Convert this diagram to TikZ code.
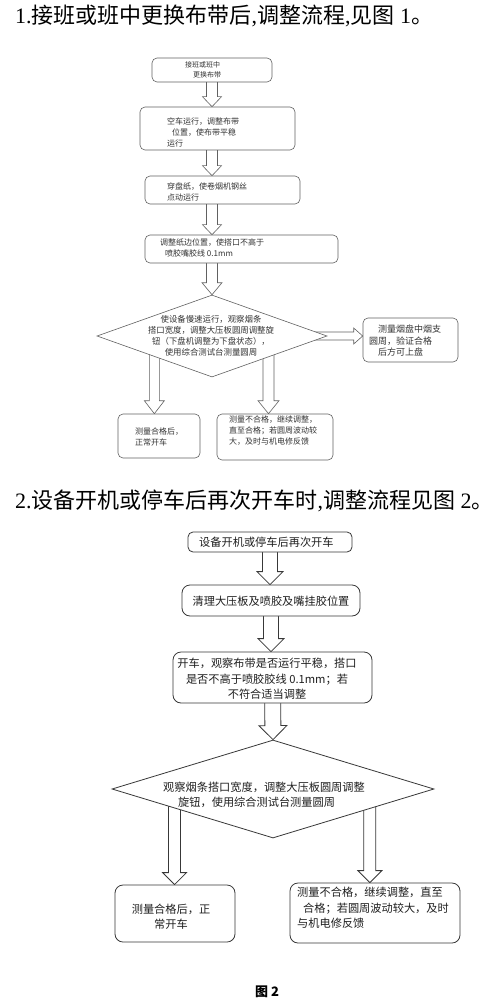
\documentclass[tikz,border=0pt]{standalone}
\usepackage{fontspec}
\setmainfont{Noto Sans CJK SC}
\newfontfamily\serf{Liberation Serif}
\usetikzlibrary{calc,shapes.geometric,backgrounds}
\tikzset{
  x=1pt, y=-1pt,
  boxa/.style={draw=black!62, line width=0.6pt, rounded corners=5pt, fill=white, inner sep=0pt},
  boxb/.style={draw=black!78, line width=0.8pt, rounded corners=8pt, fill=white, inner sep=0pt},
  diaa/.style={diamond, draw=black!62, line width=0.6pt, fill=white, inner sep=0pt},
  diab/.style={diamond, draw=black!78, line width=0.8pt, fill=white, inner sep=0pt},
  ta/.style={font=\fontsize{8}{11}\selectfont, align=left, inner sep=0pt, text=black!80},
  tb/.style={font=\fontsize{11.2}{15.5}\selectfont, align=left, inner sep=0pt, text=black!88},
  ttl/.style={font=\fontsize{22}{25}\selectfont, inner sep=0pt, anchor=west, text=black},
  arra/.style={draw=black!62, line width=0.6pt, fill=white, line join=miter},
  arrb/.style={draw=black!78, line width=0.8pt, fill=white, line join=miter},
}
% block arrow: [style]{from}{to}{shaft half}{head half}{head length}
\newcommand\barr[6][]{%
  \path #2 coordinate (ba) #3 coordinate (bb);
  \path ($(bb)!#6!(ba)$) coordinate (bc);
  \draw[#1] ($(ba)!#4!90:(bb)$) -- ($(bc)!#4!90:(bb)$) -- ($(bc)!#5!90:(bb)$)
    -- (bb) -- ($(bc)!#5!-90:(bb)$) -- ($(bc)!#4!-90:(bb)$) -- ($(ba)!#4!-90:(bb)$) -- cycle;
}
\begin{document}
\begin{tikzpicture}
\useasboundingbox (0,0) rectangle (497,1000);

% ---------- titles ----------
\node[ttl] (title1) at (15,16) {{\serf 1.}接班或班中更换布带后{\serf ,}调整流程{\serf ,}见图{\serf\ 1}。};
\node[ttl] (title2) at (15,501) {{\serf 2.}设备开机或停车后再次开车时{\serf ,}调整流程见图{\serf\ 2}。};

% ---------- figure 1 ----------
\node[boxa, minimum width=120pt, minimum height=24pt] (a1) at (212,70) {};
\node[boxa, minimum width=155pt, minimum height=43pt] (a2) at (217.5,128.5) {};
\node[boxa, minimum width=155pt, minimum height=28pt] (a3) at (222.5,190) {};
\node[boxa, minimum width=193pt, minimum height=28pt] (a4) at (241.5,249) {};
\node[diaa, minimum width=230pt, minimum height=82pt] (ad) at (212,336) {};
\node[boxa, minimum width=95pt, minimum height=44pt] (ar) at (410.5,340) {};
\node[boxa, minimum width=82pt, minimum height=44pt] (al) at (159,436) {};
\node[boxa, minimum width=116pt, minimum height=46pt] (ab) at (275,437) {};

\node[ta, anchor=west, font=\fontsize{7}{10}\selectfont] (ta1) at (185,70) {接班或班中\\\hspace{8pt}更换布带};
\node[ta, anchor=west] (ta2) at (167,132) {空车运行，调整布带\\\hspace{5pt}位置，使布带平稳\\运行};
\node[ta, anchor=west] (ta3) at (167,191.5) {穿盘纸，使卷烟机钢丝\\点动运行};
\node[ta, anchor=west] (ta4) at (160,248) {调整纸边位置，使搭口不高于\\\hspace{5pt}喷胶嘴胶线 0.1mm};
\node[ta, align=center, font=\fontsize{8.4}{11}\selectfont] (tad) at (211,336) {使设备慢速运行，观察烟条\\搭口宽度，调整大压板圆周调整旋\\钮（下盘机调整为下盘状态），\\使用综合测试台测量圆周};
\node[ta, anchor=west, font=\fontsize{9}{11.5}\selectfont] (tar) at (369,341) {\hspace{9pt}测量烟盘中烟支\\圆周，验证合格\\\hspace{9pt}后方可上盘};
\node[ta, anchor=west] (tal) at (135,437) {测量合格后，\\正常开车};
\node[ta, anchor=west] (tab) at (229,431) {测量不合格，继续调整，\\直至合格；若圆周波动较\\大，及时与机电修反馈};

% ---------- figure 2 ----------
\node[boxb, minimum width=164pt, minimum height=20pt, rounded corners=5pt] (b1) at (270,542) {};
\node[boxb, minimum width=178pt, minimum height=31pt] (b2) at (271,600.5) {};
\node[boxb, minimum width=199pt, minimum height=51pt] (b3) at (272.5,677.5) {};
\node[diab, minimum width=322pt, minimum height=98pt] (bd) at (273,789) {};
\node[boxb, minimum width=120pt, minimum height=57pt] (bl) at (175,913.5) {};
\node[boxb, minimum width=170pt, minimum height=60pt] (bb2) at (375,913) {};

\node[tb, anchor=west] (tb1) at (199,542) {设备开机或停车后再次开车};
\node[tb] (tb2) at (271,601) {清理大压板及喷胶及嘴挂胶位置};
\node[tb, align=center] (tb3) at (267,679) {开车，观察布带是否运行平稳，搭口\\是否不高于喷胶胶线 0.1mm；若\\不符合适当调整};
\node[tb, anchor=west, font=\fontsize{11.2}{14.5}\selectfont] (tbd) at (163,795) {观察烟条搭口宽度，调整大压板圆周调整\\\hspace{15pt}旋钮，使用综合测试台测量圆周};
\node[tb, align=center] (tbl) at (171,916.5) {测量合格后，正\\常开车};
\node[tb, anchor=west] (tbr) at (297,908) {测量不合格，继续调整，直至\\\hspace{6pt}合格；若圆周波动较大，及时\\与机电修反馈};

\node[inner sep=0pt, font=\fontsize{13}{15}\selectfont\bfseries] (cap) at (267,992) {图 2};

% ---------- block arrows (behind the boxes) ----------
\begin{scope}[on background layer]
  \fill[white] (0,0) rectangle (497,1000);
  \barr[arra]{(a1.center)}{(a1.center |- a2.north)}{5.5pt}{9.5pt}{10pt}
  \barr[arra]{(a1.center |- a2.center)}{(a1.center |- a3.north)}{5.5pt}{9.5pt}{10pt}
  \barr[arra]{(a1.center |- a3.center)}{(a1.center |- a4.north)}{5.5pt}{9.5pt}{10pt}
  \barr[arra]{(a1.center |- a4.center)}{(ad.north)}{5.5pt}{10pt}{12pt}
  \barr[arra]{(ad.center)}{(ad.center -| ar.west)}{4pt}{8pt}{9pt}
  \path ($(ad.west)!0.5!(ad.center)$) coordinate (adl);
  \path ($(ad.center)!0.49!(ad.east)$) coordinate (adr);
  \barr[arra]{(adl)}{(adl |- al.north)}{5pt}{10pt}{13pt}
  \barr[arra]{(adr)}{(adr |- ab.north)}{5.5pt}{10.5pt}{13pt}

  \barr[arrb]{(b1.center)}{(b1.center |- b2.north)}{7.5pt}{13pt}{13pt}
  \barr[arrb]{(b2.center)}{(b2.center |- b3.north)}{7.5pt}{13pt}{13pt}
  \barr[arrb]{(b3.center)}{(bd.north)}{8pt}{14pt}{14pt}
  \path ($(bd.west)!0.39!(bd.center)$) coordinate (bdl);
  \path ($(bd.center)!0.6!(bd.east)$) coordinate (bdr);
  \barr[arrb]{(bdl)}{(bdl |- bl.north)}{6pt}{12pt}{12pt}
  \barr[arrb]{(bdr)}{(bdr |- bb2.north)}{6pt}{12pt}{12pt}
\end{scope}
\end{tikzpicture}
\end{document}
